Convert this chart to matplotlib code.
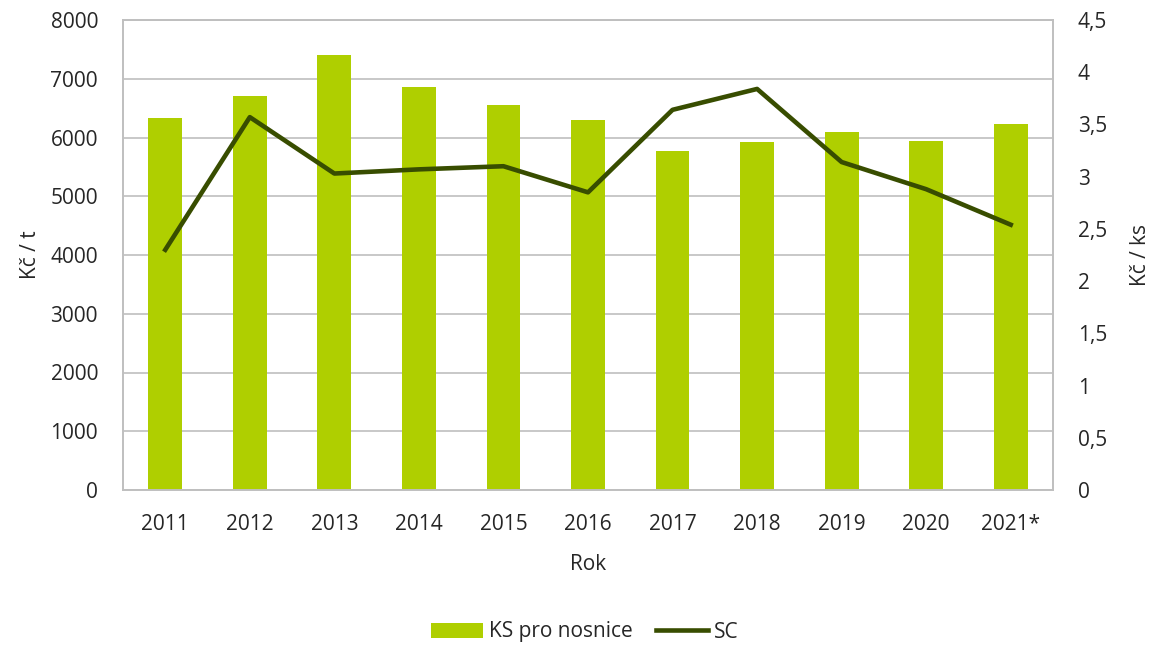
import matplotlib
matplotlib.use("Agg")
import matplotlib.pyplot as plt
import numpy as np

years = ["2011", "2012", "2013", "2014", "2015", "2016", "2017", "2018", "2019", "2020", "2021*"]
ks_nosnice = [6335, 6700, 7405, 6860, 6553, 6291, 5765, 5917, 6093, 5940, 6223]
sc = [2.30, 3.57, 3.03, 3.07, 3.10, 2.85, 3.64, 3.84, 3.14, 2.88, 2.54]

left_ticks = [0, 1000, 2000, 3000, 4000, 5000, 6000, 7000, 8000]
right_ticks = [0, 0.5, 1, 1.5, 2, 2.5, 3, 3.5, 4, 4.5]
right_labels = ["0", "0,5", "1", "1,5", "2", "2,5", "3", "3,5", "4", "4,5"]

plt.rcParams['font.family'] = ['Open Sans', 'DejaVu Sans']
bar_color = "#AFCF00"
line_color = "#384D00"
grid_color = "#BFBFBF"
text_color = "#262626"
fs = 15

fig = plt.figure(figsize=(11.53, 6.48), dpi=100)
ax = fig.add_axes([123/1153, 1 - 490/648, (1053 - 123)/1153, (490 - 20)/648])
x = np.arange(len(years))
bars = ax.bar(x, ks_nosnice, width=0.4, color=bar_color, zorder=2, label="KS pro nosnice")
ax.set_xlim(-0.5, len(years) - 0.5)
ax.set_ylim(0, 8000)
ax.set_yticks(left_ticks)
ax.set_yticklabels([str(t) for t in left_ticks])
ax.set_xticks(x)
ax.set_xticklabels(years)
ax.yaxis.grid(True, color=grid_color, linewidth=1.2, zorder=0)
ax.set_axisbelow(True)
for s in ax.spines.values():
    s.set_color(grid_color)
    s.set_linewidth(1.2)
ax.tick_params(axis='both', length=0, labelsize=fs, colors=text_color)
ax.tick_params(axis='y', pad=18)
ax.tick_params(axis='x', pad=17)
ax.set_ylabel("Kč / t", fontsize=fs, color=text_color, labelpad=7)
ax.set_xlabel("Rok", fontsize=fs, color=text_color, labelpad=14)

ax2 = ax.twinx()
line, = ax2.plot(x, sc, color=line_color, linewidth=3.3, zorder=3, label="SC")
ax2.set_ylim(0, 4.5)
ax2.set_yticks(right_ticks)
ax2.set_yticklabels(right_labels)
ax2.tick_params(axis='y', length=0, labelsize=fs, colors=text_color, pad=18)
for s in ax2.spines.values():
    s.set_color(grid_color)
    s.set_linewidth(1.2)
ax2.set_ylabel("Kč / ks", fontsize=fs, color=text_color, labelpad=16)

leg = fig.legend([bars, line], ["KS pro nosnice", "SC"], loc='center', bbox_to_anchor=(585/1153, 1 - 632/648),
                 ncol=2, frameon=False, fontsize=fs, handlelength=2.5, handletextpad=0.3, columnspacing=1.1)
for t in leg.get_texts():
    t.set_color(text_color)

fig.savefig("out.png", dpi=100)
